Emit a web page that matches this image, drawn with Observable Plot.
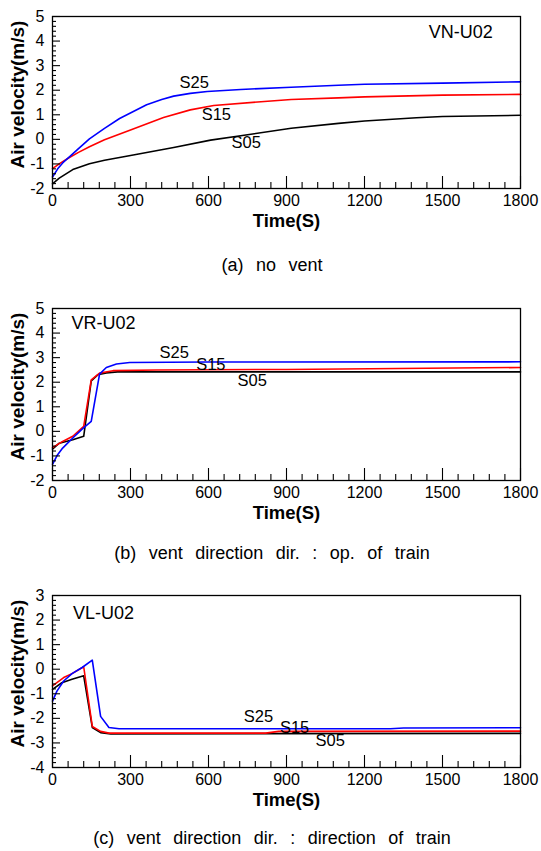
<!DOCTYPE html>
<html>
<head>
<meta charset="utf-8">
<script src="https://cdn.jsdelivr.net/npm/d3@7"></script>
<script src="https://cdn.jsdelivr.net/npm/@observablehq/plot@0.6"></script>
<style>
  html, body { margin: 0; padding: 0; background: #fff; }
  #wrap { position: relative; width: 541px; height: 851px; overflow: hidden; font-family: "Liberation Sans", Arial, sans-serif; }
  .panel { position: absolute; left: 0; }
  .cap { position: absolute; left: 0; width: 544px; text-align: center; font-size: 18px; line-height: 20px; word-spacing: 7.5px; color: #000; }
</style>
</head>
<body>
<div id="wrap"></div>
<script>
// ---------- data ----------
const seriesNames = ["S05", "S15", "S25"];
const seriesColors = ["#000000", "#ff0000", "#0000ff"];
const xTicks = [0, 300, 600, 900, 1200, 1500, 1800];
const yTicksAB = [-2, -1, 0, 1, 2, 3, 4, 5];
const yTicksC = [-4, -3, -2, -1, 0, 1, 2, 3];
const xLabel = "Time(S)";
const yLabel = "Air velocity(m/s)";

// (a) no vent : [time, velocity]
const aS25 = [[0,-1.53],[20,-1.2],[40,-0.95],[65,-0.71],[100,-0.38],[142,0.02],[200,0.45],[258,0.85],[362,1.41],[420,1.62],[466,1.76],[530,1.87],[595,1.95],[724,2.03],[918,2.12],[1100,2.2],[1200,2.24],[1500,2.29],[1800,2.34]];
const aS15 = [[0,-1.19],[30,-0.97],[65,-0.74],[100,-0.53],[142,-0.3],[200,-0.02],[300,0.38],[427,0.89],[530,1.2],[620,1.38],[789,1.52],[918,1.62],[1100,1.69],[1200,1.73],[1500,1.8],[1800,1.83]];
const aS05 = [[0,-1.81],[26,-1.58],[78,-1.23],[142,-0.99],[200,-0.85],[300,-0.66],[466,-0.33],[608,-0.03],[724,0.15],[918,0.45],[1100,0.65],[1200,0.75],[1400,0.88],[1500,0.93],[1800,0.98]];
const aNotes = [{text:"S25", t:545, v:2.31},{text:"S15", t:630, v:1.0},{text:"S05", t:745, v:-0.15},{text:"VN-U02", t:1570, v:4.36}];

// (b) vent direction opposite of train
const bS25 = [[0,-1.34],[19,-0.96],[39,-0.68],[78,-0.27],[116,0.11],[149,0.41],[181,2.33],[207,2.6],[246,2.74],[297,2.8],[600,2.82],[1800,2.83]];
const bS15 = [[0,-0.66],[39,-0.41],[78,-0.2],[120,0.2],[149,2.1],[181,2.37],[233,2.47],[400,2.5],[900,2.52],[1800,2.6]];
const bS05 = [[0,-0.72],[26,-0.48],[78,-0.34],[120,-0.2],[149,2.05],[174,2.3],[207,2.38],[250,2.42],[1800,2.42]];
const bNotes = [{text:"S25", t:468, v:3.21},{text:"S15", t:609, v:2.7},{text:"S05", t:768, v:2.05},{text:"VR-U02", t:196, v:4.39}];

// (c) vent direction = direction of train
const cS25 = [[0,-1.3],[17,-0.89],[43,-0.48],[75,-0.18],[114,0.07],[153,0.37],[185,-1.92],[217,-2.37],[256,-2.42],[1300,-2.42],[1350,-2.39],[1800,-2.38]];
const cS15 = [[0,-0.68],[43,-0.34],[75,-0.18],[120,0.1],[153,-2.33],[185,-2.53],[217,-2.6],[820,-2.6],[870,-2.53],[1800,-2.52]];
const cS05 = [[0,-0.82],[36,-0.55],[75,-0.41],[120,-0.27],[153,-2.37],[185,-2.58],[224,-2.63],[1800,-2.61]];
const cNotes = [{text:"S25", t:792, v:-1.95},{text:"S15", t:931, v:-2.39},{text:"S05", t:1068, v:-2.91},{text:"VL-U02", t:196, v:2.27}];

const captions = ["(a)  no  vent", "(b)  vent  direction  dir.  :  op.  of  train", "(c)  vent  direction  dir.  :  direction  of  train"];

// ---------- drawing ----------
const W = 541, ML = 52, MR = 21, MT = 16, PH = 172, MB = 48;
const PW = W - ML - MR;

function panel(seriesPts, yTicks, notes) {
  const rows = [];
  seriesPts.forEach((pts, i) => pts.forEach(([t, v]) => rows.push({t, v, name: seriesNames[i]})));
  const xMinor = d3.range(0, 1801, 60).filter(d => d % 300 !== 0);
  const y0 = yTicks[0], y1 = yTicks[yTicks.length - 1];
  const yMinor = d3.range(Math.round((y1 - y0) * 5) + 1).map(i => +(y0 + i * 0.2).toFixed(2)).filter(d => Math.abs(d - Math.round(d)) > 1e-6);
  return Plot.plot({
    width: W, height: MT + PH + MB,
    marginLeft: ML, marginRight: MR, marginTop: MT, marginBottom: MB,
    style: {fontFamily: "'Liberation Sans', Arial, sans-serif", background: "white", color: "black", overflow: "visible"},
    x: {domain: [0, 1800]},
    y: {domain: [y0, y1]},
    color: {domain: seriesNames, range: seriesColors},
    marks: [
      Plot.line(rows, {x: "t", y: "v", z: "name", stroke: "name", strokeWidth: 1.6}),
      Plot.frame({stroke: "black", strokeWidth: 1.3}),
      Plot.tickX(xMinor, {x: d => d, insetTop: PH - 6, stroke: "black", strokeWidth: 1.1}),
      Plot.tickX(xTicks, {x: d => d, insetTop: PH - 12, stroke: "black", strokeWidth: 1.1}),
      Plot.tickY(yMinor, {y: d => d, insetRight: PW - 4, stroke: "black", strokeWidth: 1.1}),
      Plot.tickY(yTicks, {y: d => d, insetRight: PW - 8, stroke: "black", strokeWidth: 1.1}),
      Plot.axisX({ticks: xTicks, tickSize: 0, tickPadding: 6, fontSize: 16, tickFormat: d => String(d), label: null}),
      Plot.axisY({ticks: yTicks, tickSize: 0, tickPadding: 8, fontSize: 16, tickFormat: d => String(d), label: null}),
      Plot.text(notes, {x: "t", y: "v", text: "text", fontSize: d => d.text.length > 3 ? 18 : 16.5, fill: "black"}),
      Plot.text([xLabel], {frameAnchor: "bottom", textAnchor: "middle", lineAnchor: "middle", dy: 33, fontWeight: "bold", fontSize: 18.5, fill: "black"}),
      Plot.text([yLabel], {frameAnchor: "left", textAnchor: "middle", lineAnchor: "middle", dx: -35, dy: -8, rotate: -90, fontWeight: "bold", fontSize: 19, fill: "black"})
    ]
  });
}

const wrap = document.getElementById("wrap");
const panels = [
  {pts: [aS05, aS15, aS25], ticks: yTicksAB, notes: aNotes, top: 0, capTop: 255},
  {pts: [bS05, bS15, bS25], ticks: yTicksAB, notes: bNotes, top: 292, capTop: 543},
  {pts: [cS05, cS15, cS25], ticks: yTicksC, notes: cNotes, top: 579, capTop: 828}
];
panels.forEach((p, i) => {
  const d = document.createElement("div");
  d.className = "panel";
  d.style.top = p.top + "px";
  d.appendChild(panel(p.pts, p.ticks, p.notes));
  wrap.appendChild(d);
  const c = document.createElement("div");
  c.className = "cap";
  c.style.top = p.capTop + "px";
  c.textContent = captions[i];
  wrap.appendChild(c);
});
</script>
</body>
</html>
